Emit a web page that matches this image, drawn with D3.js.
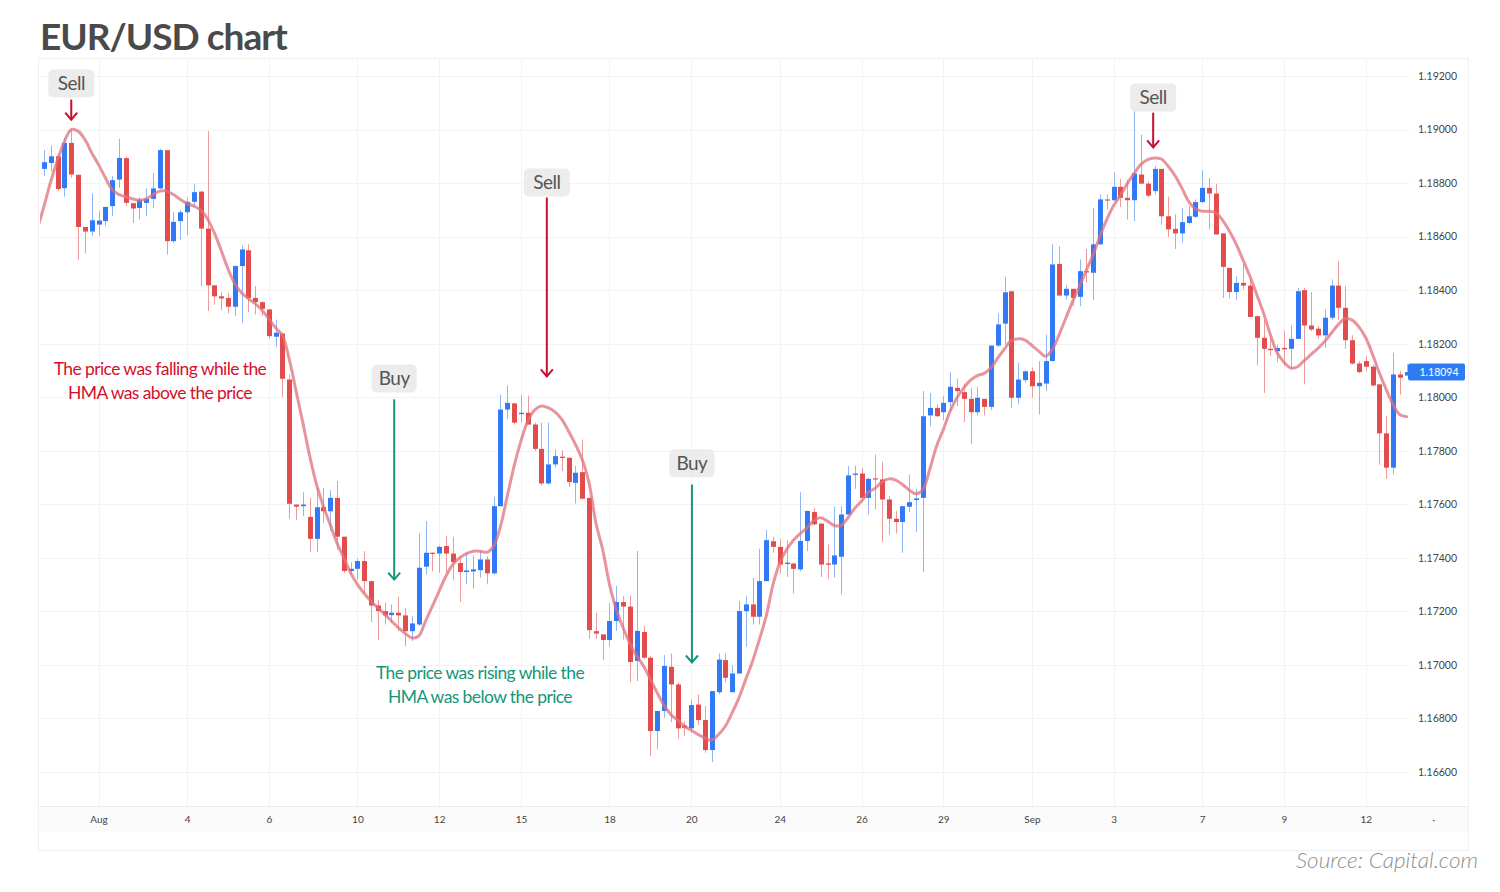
<!DOCTYPE html>
<html><head><meta charset="utf-8">
<script src="https://cdn.jsdelivr.net/npm/d3@7/dist/d3.min.js"></script>
<style>
html,body{margin:0;padding:0;background:#fff;}
svg{display:block;}
</style></head>
<body><svg id="c" width="1500" height="892"></svg>
<script>
// ---- data ----
const opens = [1.18776,1.18853,1.18875,1.18900,1.18781,1.18950,1.18831,1.18636,1.18619,1.18645,1.18658,1.18714,1.18813,1.18893,1.18725,1.18707,1.18726,1.18741,1.18780,1.18923,
1.18583,1.18658,1.18691,1.18730,1.18768,1.18630,1.18418,1.18377,1.18371,1.18338,1.18490,1.18549,1.18371,1.18355,1.18328,1.18226,1.18238,1.18066,1.17599,1.17593,
1.17553,1.17471,1.17589,1.17574,1.17624,1.17479,1.17351,1.17359,1.17388,1.17313,1.17222,1.17201,1.17186,1.17195,1.17185,1.17126,1.17151,1.17367,1.17419,1.17416,
1.17444,1.17416,1.17381,1.17347,1.17349,1.17354,1.17394,1.17342,1.17593,1.17954,1.17977,1.17937,1.17942,1.17898,1.17807,1.17678,1.17749,1.17778,1.17774,1.17680,
1.17720,1.17624,1.17126,1.17114,1.17093,1.17164,1.17235,1.17218,1.17015,1.17123,1.17027,1.16753,1.16828,1.16993,1.16927,1.16774,1.16763,1.16852,1.16794,1.16682,
1.16898,1.17018,1.16898,1.16968,1.17201,1.17226,1.17180,1.17313,1.17462,1.17441,1.17377,1.17379,1.17357,1.17463,1.17571,1.17528,1.17379,1.17375,1.17404,1.17562,
1.17710,1.17715,1.17624,1.17697,1.17693,1.17618,1.17546,1.17534,1.17591,1.17616,1.17624,1.17932,1.17960,1.17944,1.17982,1.18035,1.18019,1.17994,1.17944,1.17994,
1.17964,1.18193,1.18275,1.18396,1.17998,1.18064,1.18097,1.18041,1.18051,1.18135,1.18498,1.18380,1.18405,1.18375,1.18471,1.18465,1.18571,1.18739,1.18736,1.18786,
1.18745,1.18736,1.18832,1.18798,1.18770,1.18853,1.18676,1.18629,1.18612,1.18651,1.18674,1.18729,1.18782,1.18761,1.18612,1.18483,1.18393,1.18427,1.18417,1.18303,
1.18222,1.18181,1.18172,1.18184,1.18181,1.18218,1.18400,1.18268,1.18256,1.18231,1.18297,1.18417,1.18334,1.18213,1.18126,1.18135,1.18114,1.18048,1.17865,1.17737,
1.18085,1.18081];
const highs = [1.18857,1.18923,1.18940,1.18907,1.18969,1.19000,1.18831,1.18636,1.18761,1.18695,1.18711,1.18826,1.18965,1.18900,1.18725,1.18748,1.18781,1.18838,1.18928,1.18923,
1.18691,1.18701,1.18745,1.18798,1.18772,1.18994,1.18418,1.18392,1.18390,1.18492,1.18567,1.18571,1.18415,1.18359,1.18330,1.18290,1.18238,1.18085,1.17599,1.17645,
1.17624,1.17662,1.17662,1.17653,1.17687,1.17479,1.17384,1.17397,1.17425,1.17313,1.17244,1.17232,1.17226,1.17255,1.17213,1.17182,1.17491,1.17537,1.17421,1.17446,
1.17481,1.17479,1.17406,1.17421,1.17409,1.17425,1.17406,1.17628,1.18010,1.18044,1.17979,1.18010,1.18006,1.17905,1.17905,1.17905,1.17805,1.17803,1.17774,1.17743,
1.17842,1.17624,1.17195,1.17114,1.17230,1.17295,1.17257,1.17260,1.17425,1.17145,1.17033,1.16828,1.17036,1.17043,1.16933,1.16790,1.16871,1.16890,1.16846,1.16902,
1.17043,1.17043,1.16998,1.17238,1.17259,1.17325,1.17434,1.17504,1.17479,1.17471,1.17466,1.17379,1.17645,1.17577,1.17587,1.17528,1.17450,1.17591,1.17593,1.17743,
1.17745,1.17736,1.17699,1.17786,1.17758,1.17631,1.17575,1.17593,1.17711,1.17658,1.18023,1.18016,1.17973,1.18004,1.18094,1.18069,1.18051,1.18035,1.18039,1.17994,
1.18193,1.18313,1.18450,1.18396,1.18129,1.18101,1.18110,1.18135,1.18234,1.18571,1.18564,1.18418,1.18405,1.18515,1.18554,1.18708,1.18757,1.18757,1.18841,1.18816,
1.18813,1.19075,1.18981,1.18807,1.18863,1.18853,1.18749,1.18683,1.18707,1.18714,1.18739,1.18848,1.18819,1.18798,1.18612,1.18483,1.18452,1.18496,1.18446,1.18303,
1.18290,1.18234,1.18197,1.18250,1.18268,1.18409,1.18409,1.18393,1.18266,1.18328,1.18440,1.18508,1.18415,1.18231,1.18135,1.18154,1.18122,1.18048,1.17929,1.18166,
1.18098,1.18123];
const lows = [1.18720,1.18826,1.18844,1.18770,1.18749,1.18820,1.18514,1.18537,1.18602,1.18602,1.18639,1.18676,1.18782,1.18714,1.18651,1.18664,1.18676,1.18707,1.18776,1.18533,
1.18577,1.18587,1.18604,1.18711,1.18415,1.18322,1.18346,1.18325,1.18313,1.18303,1.18278,1.18318,1.18309,1.18303,1.18218,1.18188,1.18002,1.17546,1.17541,1.17556,
1.17421,1.17421,1.17531,1.17500,1.17431,1.17342,1.17338,1.17319,1.17267,1.17160,1.17093,1.17151,1.17157,1.17126,1.17070,1.17089,1.17145,1.17338,1.17350,1.17344,
1.17344,1.17319,1.17235,1.17301,1.17285,1.17326,1.17301,1.17338,1.17593,1.17919,1.17898,1.17905,1.17898,1.17799,1.17670,1.17674,1.17737,1.17724,1.17665,1.17603,
1.17618,1.17098,1.17098,1.17018,1.17070,1.17127,1.17095,1.16936,1.16940,1.17023,1.16660,1.16685,1.16803,1.16786,1.16724,1.16734,1.16747,1.16774,1.16672,1.16637,
1.16890,1.16936,1.16898,1.16968,1.17068,1.17151,1.17151,1.17313,1.17419,1.17342,1.17329,1.17267,1.17350,1.17425,1.17521,1.17329,1.17322,1.17326,1.17263,1.17562,
1.17658,1.17621,1.17562,1.17581,1.17459,1.17487,1.17491,1.17419,1.17571,1.17496,1.17347,1.17892,1.17927,1.17914,1.17948,1.17967,1.17907,1.17824,1.17932,1.17932,
1.17952,1.18188,1.18197,1.17961,1.17973,1.18054,1.17998,1.17936,1.18023,1.18135,1.18378,1.18365,1.18340,1.18340,1.18428,1.18363,1.18571,1.18701,1.18732,1.18711,
1.18664,1.18658,1.18795,1.18749,1.18757,1.18645,1.18599,1.18554,1.18577,1.18645,1.18670,1.18726,1.18627,1.18608,1.18371,1.18371,1.18363,1.18402,1.18300,1.18119,
1.18016,1.18153,1.18131,1.18119,1.18110,1.18218,1.18048,1.18247,1.18218,1.18185,1.18288,1.18288,1.18181,1.18122,1.18089,1.18097,1.18041,1.17748,1.17695,1.17712,
1.18010,1.18081];
const closes = [1.18832,1.18878,1.18900,1.18778,1.18950,1.18832,1.18636,1.18619,1.18661,1.18660,1.18711,1.18811,1.18894,1.18726,1.18705,1.18738,1.18741,1.18780,1.18923,1.18583,
1.18655,1.18691,1.18730,1.18766,1.18630,1.18418,1.18377,1.18369,1.18338,1.18490,1.18552,1.18371,1.18355,1.18330,1.18228,1.18241,1.18069,1.17602,1.17591,1.17599,
1.17471,1.17589,1.17574,1.17624,1.17479,1.17351,1.17359,1.17388,1.17313,1.17222,1.17201,1.17185,1.17195,1.17185,1.17126,1.17155,1.17363,1.17419,1.17415,1.17441,
1.17416,1.17384,1.17347,1.17353,1.17357,1.17394,1.17342,1.17593,1.17954,1.17979,1.17905,1.17942,1.17898,1.17807,1.17678,1.17749,1.17780,1.17773,1.17683,1.17718,
1.17621,1.17130,1.17117,1.17093,1.17164,1.17235,1.17218,1.17011,1.17127,1.17027,1.16753,1.16828,1.16996,1.16927,1.16763,1.16765,1.16850,1.16794,1.16682,1.16902,
1.17020,1.16952,1.16968,1.17201,1.17226,1.17180,1.17313,1.17466,1.17441,1.17375,1.17382,1.17359,1.17463,1.17575,1.17525,1.17375,1.17374,1.17409,1.17562,1.17708,
1.17715,1.17624,1.17695,1.17693,1.17618,1.17546,1.17534,1.17593,1.17608,1.17622,1.17929,1.17960,1.17929,1.17979,1.18039,1.18023,1.17994,1.17944,1.17998,1.17964,
1.18193,1.18272,1.18392,1.17998,1.18066,1.18097,1.18041,1.18054,1.18135,1.18496,1.18380,1.18405,1.18371,1.18471,1.18466,1.18571,1.18739,1.18735,1.18786,1.18745,
1.18736,1.18836,1.18798,1.18753,1.18853,1.18676,1.18627,1.18612,1.18654,1.18676,1.18729,1.18782,1.18761,1.18608,1.18487,1.18393,1.18427,1.18417,1.18300,1.18222,
1.18181,1.18176,1.18184,1.18179,1.18218,1.18396,1.18268,1.18253,1.18231,1.18297,1.18417,1.18334,1.18213,1.18126,1.18094,1.18114,1.18044,1.17865,1.17737,1.18085,
1.18073,1.18094];
const hma = [1.18627,1.18714,1.18807,1.18888,1.18956,1.19000,1.18994,1.18963,1.18913,1.18869,1.18820,1.18776,1.18757,1.18749,1.18741,1.18736,1.18741,1.18757,1.18770,1.18770,
1.18757,1.18739,1.18724,1.18714,1.18699,1.18666,1.18614,1.18549,1.18480,1.18425,1.18390,1.18368,1.18350,1.18325,1.18293,1.18259,1.18231,1.18141,1.18023,1.17904,
1.17780,1.17674,1.17593,1.17525,1.17456,1.17400,1.17344,1.17301,1.17267,1.17238,1.17213,1.17189,1.17164,1.17139,1.17118,1.17101,1.17108,1.17164,1.17220,1.17276,
1.17332,1.17375,1.17400,1.17416,1.17425,1.17425,1.17421,1.17444,1.17518,1.17631,1.17743,1.17836,1.17911,1.17952,1.17967,1.17961,1.17945,1.17917,1.17873,1.17824,
1.17767,1.17680,1.17531,1.17431,1.17301,1.17207,1.17139,1.17080,1.17033,1.16996,1.16946,1.16896,1.16850,1.16815,1.16794,1.16771,1.16756,1.16740,1.16727,1.16719,
1.16740,1.16771,1.16821,1.16877,1.16946,1.17014,1.17095,1.17182,1.17300,1.17382,1.17431,1.17466,1.17491,1.17512,1.17540,1.17550,1.17537,1.17521,1.17521,1.17550,
1.17585,1.17612,1.17645,1.17660,1.17683,1.17695,1.17690,1.17674,1.17653,1.17639,1.17655,1.17730,1.17817,1.17879,1.17948,1.17998,1.18035,1.18064,1.18081,1.18089,
1.18110,1.18147,1.18181,1.18213,1.18218,1.18213,1.18194,1.18172,1.18153,1.18178,1.18234,1.18297,1.18359,1.18415,1.18475,1.18533,1.18602,1.18664,1.18716,1.18754,
1.18798,1.18836,1.18870,1.18888,1.18894,1.18890,1.18863,1.18828,1.18782,1.18732,1.18704,1.18695,1.18695,1.18689,1.18661,1.18620,1.18571,1.18512,1.18452,1.18384,
1.18315,1.18234,1.18166,1.18131,1.18109,1.18114,1.18138,1.18160,1.18183,1.18209,1.18241,1.18272,1.18293,1.18288,1.18263,1.18222,1.18160,1.18091,1.18029,1.17973,
1.17935,1.17927];
const xTickIdx = [9,22,34,47,59,71,84,96,109,121,133,146,158,171,183,195];
const xTickLabels = ["Aug","4","6","10","12","15","18","20","24","26","29","Sep","3","7","9","12"];
const yTicks = [1.166,1.168,1.170,1.172,1.174,1.176,1.178,1.180,1.182,1.184,1.186,1.188,1.190,1.192];
const lastPrice = 1.18094;
// annotation anchors: [label, candle index, box price, arrow start price, arrow tip price, type]
const notes = [
  ["Sell", 5.0, 1.19172, 1.19112, 1.19037, "sell"],
  ["Sell", 74.8, 1.18802, 1.18746, 1.18078, "sell"],
  ["Buy", 52.4, 1.18070, 1.17992, 1.17319, "buy"],
  ["Buy", 96.1, 1.17753, 1.17674, 1.17009, "buy"],
  ["Sell", 163.8, 1.19120, 1.19063, 1.18933, "sell"]
];
const redText = ["The price was falling while the", "HMA was above the price"];
const greenText = ["The price was rising while the", "HMA was below the price"];

// ---- drawing ----
const svg = d3.select("#c");
const plotL = 40, plotR = 1468, plotT = 60, plotB = 806;
const x = d3.scaleLinear().domain([0, 210]).range([37.2, 37.2 + 6.813 * 210]);
const y = d3.scaleLinear().domain([1.166, 1.192]).range([772, 76]);

const FONT = "Lato, 'Open Sans', sans-serif";
const RED = "#e24c4c", BLUE = "#3179f5";
const SELL = "#c8102e", BUY = "#14967a";

// frame & background
svg.append("rect").attr("x", 38.5).attr("y", 58.5).attr("width", 1430).attr("height", 792)
  .attr("fill", "#fff").attr("stroke", "#f0f0f0");
svg.append("rect").attr("x", 39).attr("y", plotB).attr("width", 1429).attr("height", 26)
  .attr("fill", "#fbfbfb");
svg.append("line").attr("x1", 39).attr("x2", plotR).attr("y1", plotB + 0.5).attr("y2", plotB + 0.5)
  .attr("stroke", "#ececec");

// grid
const grid = svg.append("g");
yTicks.forEach(v => {
  grid.append("line").attr("x1", plotL).attr("x2", 1410).attr("y1", Math.round(y(v)) + 0.5).attr("y2", Math.round(y(v)) + 0.5)
    .attr("stroke", "#f3f3f3");
});
xTickIdx.forEach(i => {
  grid.append("line").attr("x1", Math.round(x(i)) + 0.5).attr("x2", Math.round(x(i)) + 0.5).attr("y1", plotT).attr("y2", plotB)
    .attr("stroke", "#f3f3f3");
});

// y axis labels
const yAxis = d3.axisRight(y).tickValues(yTicks).tickFormat(d3.format(".5f")).tickSize(0).tickPadding(0);
const ya = svg.append("g").attr("transform", "translate(1418,0)").call(yAxis);
ya.select(".domain").remove();
ya.selectAll("text").attr("font-family", FONT).attr("font-size", 10.5).attr("fill", "#444");

// x axis labels
const xAxis = d3.axisBottom(x).tickValues(xTickIdx).tickFormat((d, k) => xTickLabels[k]).tickSize(0).tickPadding(0);
const xa = svg.append("g").attr("transform", "translate(0,816)").call(xAxis);
xa.select(".domain").remove();
xa.selectAll("text").attr("font-family", FONT).attr("font-size", 10).attr("fill", "#444");
svg.append("text").attr("x", x(205)).attr("y", 823).attr("text-anchor", "middle")
  .attr("font-family", FONT).attr("font-size", 10).attr("fill", "#444").text("·");

// clip for plot
svg.append("clipPath").attr("id", "pc").append("rect")
  .attr("x", plotL).attr("y", plotT).attr("width", 1410 - plotL + 4).attr("height", plotB - plotT);
const plot = svg.append("g").attr("clip-path", "url(#pc)");

// candles
const idx = d3.range(opens.length);
plot.selectAll("line.w").data(idx).join("line")
  .attr("x1", i => Math.round(x(i)) + 0.5).attr("x2", i => Math.round(x(i)) + 0.5)
  .attr("y1", i => y(highs[i])).attr("y2", i => y(lows[i]))
  .attr("stroke", i => closes[i] >= opens[i] ? "#8fb6f7" : "#ee9a9a").attr("stroke-width", 1);
plot.selectAll("rect.b").data(idx).join("rect")
  .attr("x", i => Math.round(x(i)) - 2)
  .attr("width", 5)
  .attr("y", i => y(Math.max(opens[i], closes[i])))
  .attr("height", i => Math.max(1.2, Math.abs(y(opens[i]) - y(closes[i]))))
  .attr("fill", i => closes[i] >= opens[i] ? BLUE : RED);

// HMA line
const hLine = d3.line().x((d, i) => x(i)).y(d => y(d)).curve(d3.curveCatmullRom.alpha(0.5));
plot.append("path").datum(hma).attr("d", hLine)
  .attr("fill", "none").attr("stroke", "#e0707c").attr("stroke-opacity", 0.75).attr("stroke-width", 3)
  .attr("stroke-linejoin", "round").attr("stroke-linecap", "round");

// last price label
const lp = svg.append("g").attr("transform", `translate(1408,${y(lastPrice)})`);
lp.append("rect").attr("x", 0).attr("y", -8.5).attr("width", 57).attr("height", 17).attr("rx", 2).attr("fill", "#2f7cf2");
lp.append("text").attr("x", 31).attr("y", 3.5).attr("text-anchor", "middle")
  .attr("font-family", FONT).attr("font-size", 10.5).attr("fill", "#fff").text(d3.format(".5f")(lastPrice));

// annotations
notes.forEach(([label, i, bp, a0, a1, type]) => {
  const cx = x(i), col = type === "sell" ? SELL : BUY;
  const g = svg.append("g");
  const bw = label === "Sell" ? 46 : 45;
  g.append("rect").attr("x", cx - bw / 2).attr("y", y(bp) - 14).attr("width", bw).attr("height", 28).attr("rx", 5)
    .attr("fill", "#ececec");
  g.append("text").attr("x", cx).attr("y", y(bp) + 6.5).attr("text-anchor", "middle")
    .attr("font-family", FONT).attr("font-size", 19).attr("fill", "#555").attr("letter-spacing", -0.5).text(label);
  g.append("line").attr("x1", cx).attr("x2", cx).attr("y1", y(a0)).attr("y2", y(a1))
    .attr("stroke", col).attr("stroke-width", 2);
  g.append("polyline").attr("points", `${cx - 6},${y(a1) - 7} ${cx},${y(a1)} ${cx + 6},${y(a1) - 7}`)
    .attr("fill", "none").attr("stroke", col).attr("stroke-width", 2);
});

// explanatory texts
redText.forEach((t, k) => {
  svg.append("text").attr("x", 160).attr("y", 375 + k * 24).attr("text-anchor", "middle")
    .attr("font-family", FONT).attr("font-size", 17.5).attr("letter-spacing", -0.6).attr("fill", "#d40f2b").text(t);
});
greenText.forEach((t, k) => {
  svg.append("text").attr("x", 480).attr("y", 679 + k * 24).attr("text-anchor", "middle")
    .attr("font-family", FONT).attr("font-size", 17.5).attr("letter-spacing", -0.6).attr("fill", "#14967a").text(t);
});

// title & source
svg.append("text").attr("x", 40).attr("y", 50).attr("font-family", FONT).attr("font-weight", 700)
  .attr("font-size", 37).attr("letter-spacing", -1.0).attr("fill", "#4a4a4a").text("EUR/USD chart");
svg.append("text").attr("x", 1478).attr("y", 868).attr("text-anchor", "end").attr("font-family", FONT)
  .attr("font-style", "italic").attr("font-weight", 300).attr("font-size", 22.5).attr("fill", "#8f8f8f").text("Source: Capital.com");
</script></body></html>
